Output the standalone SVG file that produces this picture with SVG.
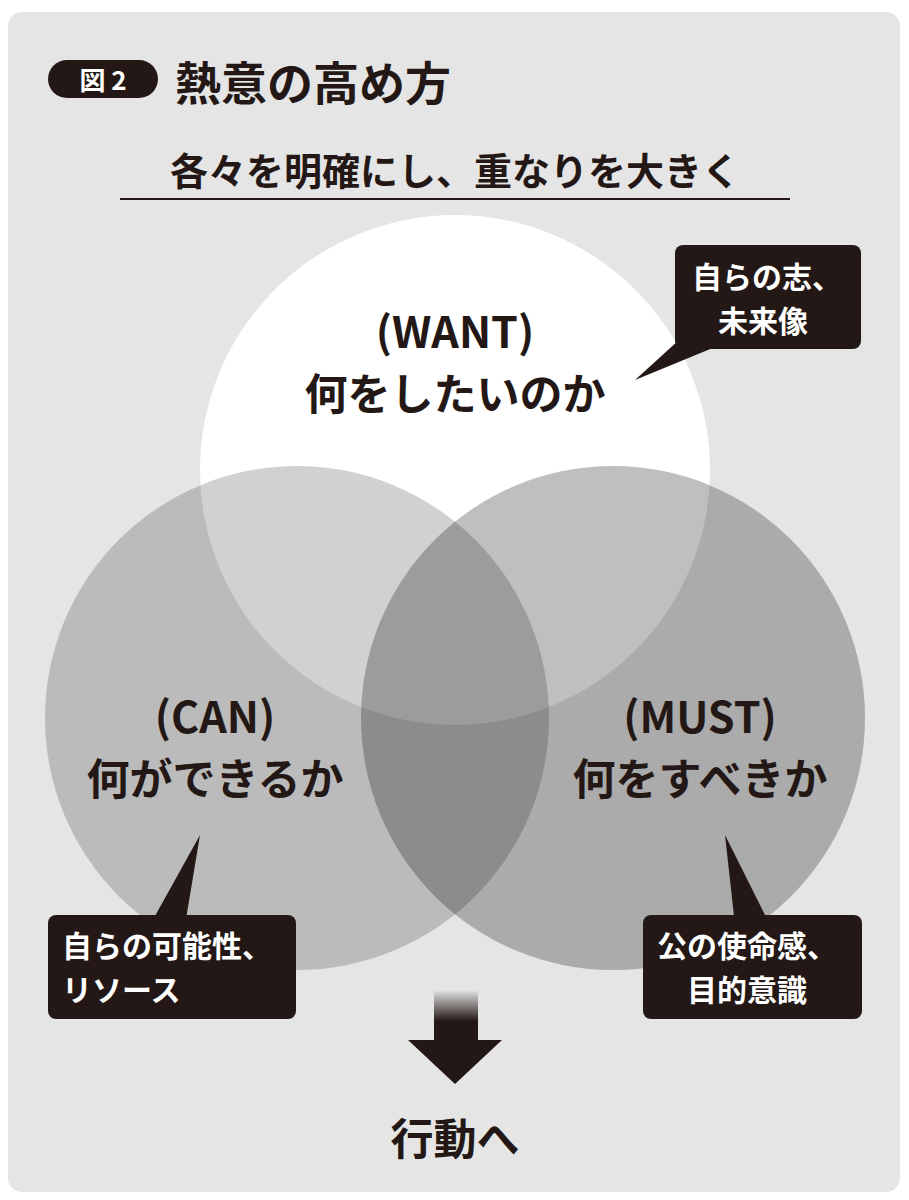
<svg xmlns="http://www.w3.org/2000/svg" width="909" height="1200" viewBox="0 0 909 1200">
<defs>
<style>
text{font-family:"Noto Sans CJK JP","Noto Sans",sans-serif;font-weight:bold}
.lbl{font-size:43px;fill:#231815;text-anchor:middle}
.cw{font-size:30px;fill:#fff}
.box{fill:#231815}
</style>
<linearGradient id="g" x1="0" y1="0" x2="0" y2="1"><stop offset="0" stop-color="#231815" stop-opacity="0"/><stop offset="0.6" stop-color="#231815"/></linearGradient>
</defs>
<rect x="8" y="12" width="892" height="1180" rx="14" fill="#e5e5e5"/>
<g id="header">
<rect x="48" y="60" width="110" height="38" rx="19" class="box"/>
<text x="103" y="90" font-size="26" fill="#fff" text-anchor="middle">図 2</text>
<text x="175" y="100" font-size="46" fill="#231815">熱意の高め方</text>
<text x="455" y="185" font-size="38" fill="#231815" text-anchor="middle">各々を明確にし、重なりを大きく</text>
<line x1="120" y1="199" x2="790" y2="199" stroke="#231815" stroke-width="2"/>
</g>
<g id="want"><circle cx="455" cy="470" r="255" fill="#fff"/></g>
<g id="can"><circle cx="297" cy="718" r="252" fill="#000" fill-opacity="0.18"/></g>
<g id="must"><circle cx="613" cy="718" r="252" fill="#000" fill-opacity="0.25"/></g>
<g id="labels">
<text x="455" y="348" class="lbl">(WANT)</text>
<text x="455" y="410" class="lbl">何をしたいのか</text>
<text x="215" y="733" class="lbl">(CAN)</text>
<text x="215" y="795" class="lbl">何ができるか</text>
<text x="700" y="733" class="lbl">(MUST)</text>
<text x="700" y="795" class="lbl">何をすべきか</text>
</g>
<g id="callout-want">
<rect x="675" y="245" width="186" height="104" rx="8" class="box"/>
<polygon points="690,330 720,345 635,380" class="box"/>
<text x="692" y="288" class="cw">自らの志、</text>
<text x="718" y="332" class="cw">未来像</text>
</g>
<g id="callout-can">
<rect x="48" y="915" width="248" height="104" rx="8" class="box"/>
<polygon points="150,925 185,925 200,835" class="box"/>
<text x="62" y="957" class="cw">自らの可能性、</text>
<text x="62" y="1001" class="cw">リソース</text>
</g>
<g id="callout-must">
<rect x="643" y="915" width="219" height="104" rx="8" class="box"/>
<polygon points="735,925 770,925 725,835" class="box"/>
<text x="657" y="957" class="cw">公の使命感、</text>
<text x="687" y="1001" class="cw">目的意識</text>
</g>
<g id="connectors">
<rect x="434" y="990" width="44" height="52" fill="url(#g)"/>
<polygon points="408,1040 502,1040 455,1084" fill="#231815"/>
</g>
<g id="action"><text x="455" y="1155" class="lbl">行動へ</text></g>
</svg>
